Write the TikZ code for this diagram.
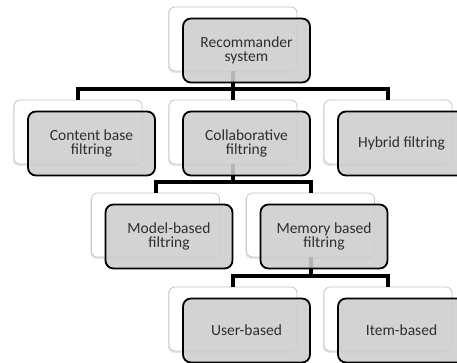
\documentclass[tikz,border=0pt]{standalone}
\usepackage{fontspec}
\setmainfont{Carlito}
\usetikzlibrary{calc,shadows}
\definecolor{txtgray}{HTML}{2E2E2E}
\definecolor{frontfill}{HTML}{CDCDCD}
\tikzset{
  backbox/.style={draw=gray!45, line width=0.8pt, fill=white, rounded corners=6pt,
    minimum width=128pt, minimum height=64pt, inner sep=0pt,
    drop shadow={shadow xshift=-1.2pt, shadow yshift=-1.8pt, opacity=0.10, fill=black}},
  frontbox/.style={draw=black, line width=1.8pt, fill=frontfill, fill opacity=0.88, text opacity=1,
    rounded corners=8pt, minimum width=127pt, minimum height=64pt, inner sep=0pt,
    align=center, text=txtgray, font=\fontsize{15.5}{14.5}\selectfont},
  conn/.style={draw=black, line width=4pt, line join=miter}
}
\begin{document}
\begin{tikzpicture}[x=1pt,y=-1pt]
\clip (0,0) rectangle (457,362);
\fill[white] (0,0) rectangle (457,362);
% back boxes
\node[backbox] (rb) at (233,39) {};
\node[backbox] (cb) at (78,132) {};
\node[backbox] (lb) at (233,132) {};
\node[backbox] (hb) at (388,132) {};
\node[backbox] (mb) at (155.5,225) {};
\node[backbox] (yb) at (310.5,225) {};
\node[backbox] (ub) at (233,319) {};
\node[backbox] (ib) at (388,319) {};
% connectors
\draw[conn] (rb.south) |- ($(cb.north)+(0,-10.5)$) -- (cb.north);
\draw[conn] (rb.south) |- ($(lb.north)+(0,-10.5)$) -- (lb.north);
\draw[conn] (rb.south) |- ($(hb.north)+(0,-10.5)$) -- (hb.north);
\draw[conn] (lb.south) |- ($(mb.north)+(0,-10.5)$) -- (mb.north);
\draw[conn] (lb.south) |- ($(yb.north)+(0,-10.5)$) -- (yb.north);
\draw[conn] (yb.south) |- ($(ub.north)+(0,-10.5)$) -- (ub.north);
\draw[conn] (yb.south) |- ($(ib.north)+(0,-10.5)$) -- (ib.north);
% front boxes
\node[frontbox] (r) at (246.5,50.5) {Recommander\\system};
\node[frontbox] (c) at (91.5,143.5) {Content base\\filtring};
\node[frontbox] (l) at (246.5,143.5) {Collaborative\\filtring};
\node[frontbox] (h) at (401.5,143.5) {Hybrid filtring};
\node[frontbox] (m) at (169,236.5) {Model-based\\filtring};
\node[frontbox] (y) at (324,236.5) {Memory based\\filtring};
\node[frontbox] (u) at (246.5,330.5) {User-based};
\node[frontbox] (i) at (401.5,330.5) {Item-based};
\end{tikzpicture}
\end{document}
